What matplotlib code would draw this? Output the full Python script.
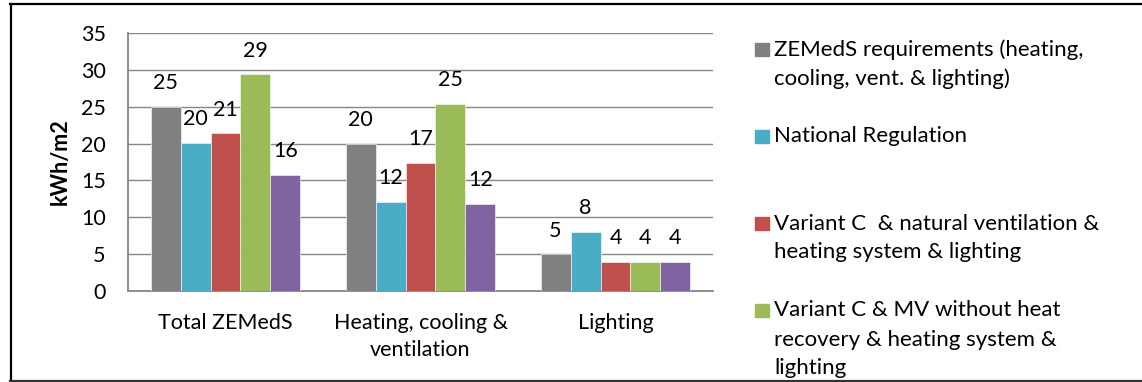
import numpy as np
import matplotlib.pyplot as plt
from matplotlib.lines import Line2D
from matplotlib.patches import Rectangle

plt.rcParams['font.family'] = ['Lato', 'DejaVu Sans']

categories = ['Total ZEMedS', 'Heating, cooling &\nventilation', 'Lighting']
zemeds_req = [25.0, 20.0, 5.0]
national_reg = [20.1, 12.1, 8.0]
variant_nat_vent = [21.4, 17.4, 4.0]
variant_mv_no_hr = [29.4, 25.4, 4.0]
variant_fifth = [15.8, 11.8, 4.0]

series = [zemeds_req, national_reg, variant_nat_vent, variant_mv_no_hr, variant_fifth]
colors = ['#808080', '#4BACC6', '#C0504D', '#9BBB59', '#8064A2']
legend_labels = [
    ['ZEMedS requirements (heating,', 'cooling, vent. & lighting)'],
    ['National Regulation'],
    ['Variant C  & natural ventilation &', 'heating system & lighting'],
    ['Variant C & MV without heat', 'recovery & heating system &', 'lighting'],
]

W, H = 1142, 382
fig = plt.figure(figsize=(W / 100, H / 100), dpi=100)
ax = fig.add_axes([128 / W, 1 - 291 / H, 585 / W, 258 / H])

grid_col = '#868686'
fs = 15.5
width = 0.1538
x = np.arange(len(categories))
for i, (vals, col) in enumerate(zip(series, colors)):
    pos = x + (i - 2) * width
    ax.bar(pos, vals, width, color=col, edgecolor='white', linewidth=0.4, zorder=3)
    for px, v in zip(pos, vals):
        ax.annotate('%.0f' % v, (px, v), xytext=(0, 17), textcoords='offset points',
                    ha='center', va='center', fontsize=fs, color='black', zorder=4)

ax.set_xlim(-0.5, 2.5)
ax.set_ylim(0, 35)
ax.set_yticks(np.arange(0, 36, 5))
ax.yaxis.grid(True, color=grid_col, linewidth=1.0, zorder=0)
ax.set_xticks(x)
ax.set_xticklabels(categories, linespacing=1.45)
ax.tick_params(axis='both', length=0, labelsize=fs)
ax.tick_params(axis='y', pad=16)
ax.tick_params(axis='x', pad=15.5)
for s in ['top', 'right']:
    ax.spines[s].set_visible(False)
for s in ['left', 'bottom']:
    ax.spines[s].set_color(grid_col)
    ax.spines[s].set_linewidth(1.3)
ax.set_ylabel('kWh/m2', fontsize=fs, fontweight='bold', labelpad=7)

# legend drawn by hand so entries sit on an even step
step = 87
line_h = 29
for k, (lines, col) in enumerate(zip(legend_labels, colors)):
    yc = 49.5 + k * step
    fig.patches.append(Rectangle((755 / W, 1 - (yc + 6.5) / H), 14 / W, 13 / H,
                                 transform=fig.transFigure, color=col))
    for j, txt in enumerate(lines):
        fig.text(774 / W, 1 - (yc + j * line_h) / H, txt, fontsize=16,
                 ha='left', va='center')

# outer frame
fig.add_artist(Line2D([10 / W, 1], [1 - 3.5 / H] * 2, color='black', linewidth=1.6))
fig.add_artist(Line2D([11 / W] * 2, [1 - 3.5 / H, 1 - 380.5 / H], color='black', linewidth=1.6))
fig.add_artist(Line2D([10 / W, 1], [1 - 380.5 / H] * 2, color='#333333', linewidth=1.6))

fig.savefig('out.png', dpi=100)
